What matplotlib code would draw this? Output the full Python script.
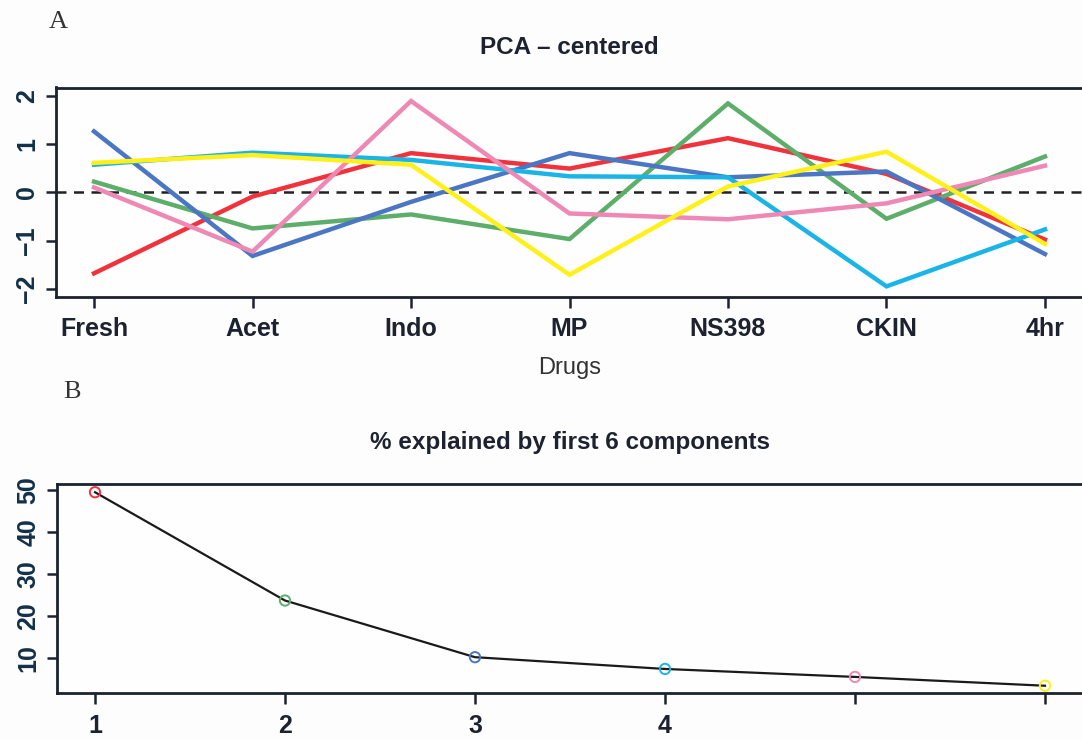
import numpy as np
import matplotlib
matplotlib.use("Agg")
import matplotlib.pyplot as plt

plt.rcParams['font.family'] = ['Liberation Sans', 'DejaVu Sans']

# PCA scores per drug treatment (first 6 components)
drugs = ["Fresh", "Acet", "Indo", "MP", "NS398", "CKIN", "4hr"]
pc1 = [-1.68, -0.09, 0.81, 0.49, 1.12, 0.38, -0.98]   # red
pc2 = [0.22, -0.75, -0.46, -0.97, 1.84, -0.55, 0.74]  # green
pc3 = [1.26, -1.32, -0.20, 0.81, 0.31, 0.43, -1.28]   # blue
pc4 = [0.57, 0.82, 0.67, 0.33, 0.31, -1.95, -0.77]    # cyan
pc5 = [0.10, -1.23, 1.89, -0.44, -0.56, -0.23, 0.55]  # pink
pc6 = [0.61, 0.77, 0.57, -1.71, 0.12, 0.84, -1.07]    # yellow

# percent variance explained
components = [1, 2, 3, 4, 5, 6]
pct_explained = [49.4, 23.6, 10.1, 7.3, 5.4, 3.3]
comp_labels = ["1", "2", "3", "4", "", ""]

cols = ["#F0323C", "#5DAE6A", "#4A76C4", "#1AB4E6", "#EE88B4", "#FFF01A"]
ink = "#1c2230"
ylab_col = "#123048"

fig = plt.figure(figsize=(10.82, 7.40), dpi=100)
fig.patch.set_facecolor("#fdfdfd")

def style_axes(ax):
    ax.set_facecolor("#fefefe")
    for s in ax.spines.values():
        s.set_linewidth(2.0)
        s.set_color(ink)
    ax.tick_params(axis='x', length=8, width=1.8, color=ink, pad=7,
                   labelsize=18, labelcolor=ink)
    ax.tick_params(axis='y', length=7, width=1.8, color=ink, pad=5,
                   labelsize=18, labelcolor=ylab_col)
    for t in ax.get_xticklabels() + ax.get_yticklabels():
        t.set_fontweight('bold')
    for t in ax.get_yticklabels():
        t.set_rotation(90)
        t.set_va('center')

# --- A: PCA - centered
ax1 = fig.add_axes([56/1082, 1-296.5/740, 1027/1082, 209/740])
x = np.arange(1, len(drugs)+1)
ax1.axhline(0, color="#222222", lw=1.8, ls=(0, (4, 3)))
for vals, c in zip([pc1, pc2, pc3, pc4, pc5, pc6], cols):
    ax1.plot(x, vals, color=c, lw=3.2, solid_joinstyle='miter')
ax1.set_xlim(0.76, 7.24)
ax1.set_ylim(-2.16, 2.17)
ax1.set_xticks(x)
ax1.set_xticklabels(drugs)
ax1.set_yticks([-2, -1, 0, 1, 2])
ax1.set_yticklabels(["\u22122", "\u22121", "0", "1", "2"])
style_axes(ax1)
ax1.set_title("PCA \u2013 centered", fontsize=17.5, fontweight='bold',
              color=ink, pad=24)
ax1.set_xlabel("Drugs", fontsize=17, color="#333333", labelpad=11)

# --- B: scree plot
ax2 = fig.add_axes([57/1082, 1-693/740, 1026/1082, 209/740])
ax2.plot(components, pct_explained, color="#1a1a1a", lw=1.6, zorder=2)
ax2.scatter(components, pct_explained, s=55, facecolors='none',
            edgecolors=cols, linewidths=1.4, zorder=3)
ax2.set_xlim(0.8, 6.2)
ax2.set_ylim(1.57, 51.36)
ax2.set_xticks(components)
ax2.set_xticklabels(comp_labels)
ax2.set_yticks([10, 20, 30, 40, 50])
style_axes(ax2)
ax2.set_title("% explained by first 6 components", fontsize=17.5,
              fontweight='bold', color=ink, pad=25)

fig.text(58/1082, 1-22/740, "A", family="Liberation Serif", fontsize=19,
         color="#333333", ha='center', va='center')
fig.text(72/1082, 1-392/740, "B", family="Liberation Serif", fontsize=19,
         color="#333333", ha='center', va='center')

fig.savefig("out.png", dpi=100, facecolor=fig.get_facecolor())
